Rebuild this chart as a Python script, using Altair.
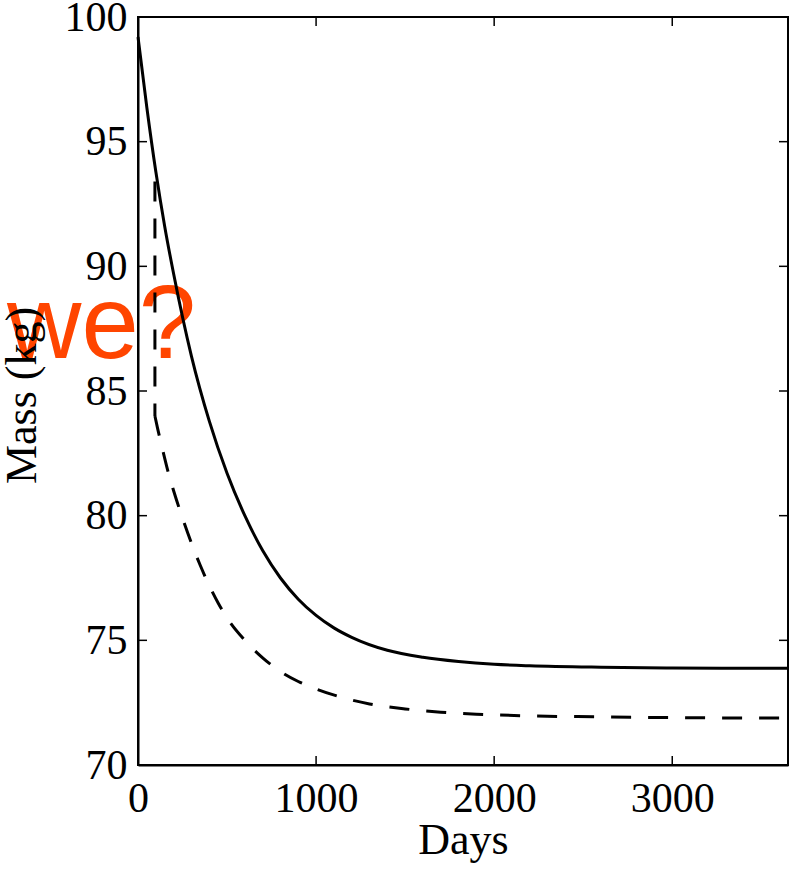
import altair as alt
import pandas as pd

# Solid curve
solid_days = [0, 50, 100, 150, 200, 300, 400, 500, 600, 700, 800, 900, 1000, 1100,
              1200, 1400, 1600, 1800, 2000, 2200, 2600, 3000, 3650]
solid_mass = [99.2, 96.35, 93.8, 91.6, 89.7, 86.4, 83.8, 81.7, 80.0, 78.6, 77.5, 76.65,
              76.0, 75.5, 75.12, 74.6, 74.32, 74.15, 74.04, 73.98, 73.92, 73.89, 73.88]

# Dashed curve: vertical drop at the switch day, then the decay
drop_day = [95]
drop_top = [93.4]
drop_bottom = [84.0]
dashed_days = [95, 110, 130, 150, 175, 200, 250, 300, 350, 400, 450, 500, 600, 700,
               800, 900, 1000, 1150, 1300, 1500, 1700, 1900, 2200, 2600, 3000, 3650]
dashed_mass = [84.0, 83.5, 82.9, 82.3, 81.6, 81.0, 79.9, 78.9, 78.0, 77.2, 76.5,
               75.9, 75.0, 74.3, 73.75, 73.35, 73.05, 72.7, 72.45, 72.25, 72.12, 72.04,
               71.97, 71.93, 71.9, 71.88]

x_ticks = [0, 1000, 2000, 3000]
y_ticks = [70, 75, 80, 85, 90, 95, 100]
overlay_text = "we?"

W, H = 650, 748
TICK = 9

solid_df = pd.DataFrame({"day": solid_days, "mass": solid_mass})
dashed_df = pd.DataFrame({"day": dashed_days, "mass": dashed_mass})
drop_df = pd.DataFrame({"day": drop_day, "top": drop_top, "bottom": drop_bottom})
xt_df = pd.DataFrame({"v": x_ticks})
yt_df = pd.DataFrame({"v": y_ticks})

xscale = alt.Scale(domain=[0, 3650], nice=False)
yscale = alt.Scale(domain=[70, 100], nice=False)

serif = "Liberation Serif"

x_axis = alt.Axis(values=x_ticks, format="d", title="Days", labelFont=serif,
                  labelFontSize=42, labelColor="black", ticks=False, domain=True,
                  domainColor="black", domainWidth=2, labelPadding=13, grid=False,
                  titleFont=serif, titleFontSize=44, titleFontWeight="normal",
                  titleColor="black", titleBaseline="alphabetic", titleY=88,
                  titleX=W / 2, zindex=1, labelFlush=False, labelOverlap=False)
y_axis = alt.Axis(values=y_ticks, format="d", title="Mass (kg)", labelFont=serif,
                  labelFontSize=42, labelColor="black", ticks=False, domain=True,
                  domainColor="black", domainWidth=2, labelPadding=11, grid=False,
                  titleFont=serif, titleFontSize=44, titleFontWeight="normal",
                  titleColor="black", titleBaseline="alphabetic", titleX=-103,
                  titleY=378, titleAngle=-90, zindex=1, labelFlush=False,
                  labelOverlap=False)

text_layer = alt.Chart(pd.DataFrame({"t": [overlay_text]})).mark_text(
    font="Liberation Sans", fontSize=103, color="#FF4500", align="left",
    baseline="alphabetic"
).encode(text="t:N", x=alt.value(-131), y=alt.value(341))

solid = alt.Chart(solid_df).mark_line(color="black", strokeWidth=3,
                                      interpolate="monotone").encode(
    x=alt.X("day:Q", scale=xscale, axis=x_axis),
    y=alt.Y("mass:Q", scale=yscale, axis=y_axis),
)

drop = alt.Chart(drop_df).mark_rule(color="black", strokeWidth=3,
                                    strokeDash=[20, 17]).encode(
    x=alt.X("day:Q", scale=xscale),
    y=alt.Y("top:Q", scale=yscale),
    y2="bottom:Q",
)

dashed = alt.Chart(dashed_df).mark_line(color="black", strokeWidth=3,
                                        strokeDash=[20, 17],
                                        interpolate="monotone").encode(
    x=alt.X("day:Q", scale=xscale),
    y=alt.Y("mass:Q", scale=yscale),
)

left_ticks = alt.Chart(yt_df).mark_rule(color="black", strokeWidth=1.5).encode(
    y=alt.Y("v:Q", scale=yscale), x=alt.value(0), x2=alt.value(TICK))
right_ticks = alt.Chart(yt_df).mark_rule(color="black", strokeWidth=1.5).encode(
    y=alt.Y("v:Q", scale=yscale), x=alt.value(W - TICK), x2=alt.value(W))
bottom_ticks = alt.Chart(xt_df).mark_rule(color="black", strokeWidth=1.5).encode(
    x=alt.X("v:Q", scale=xscale), y=alt.value(H - TICK), y2=alt.value(H))
top_ticks = alt.Chart(xt_df).mark_rule(color="black", strokeWidth=1.5).encode(
    x=alt.X("v:Q", scale=xscale), y=alt.value(0), y2=alt.value(TICK))

chart = alt.layer(text_layer, solid, drop, dashed, left_ticks, right_ticks,
                  bottom_ticks, top_ticks).properties(
    width=W, height=H,
    autosize=alt.AutoSizeParams(type="none"),
    padding={"left": 138, "top": 17, "right": 2, "bottom": 111},
    background="white",
).configure_view(stroke="black", strokeWidth=2)

chart.save("out.html", embed_options={"renderer": "svg", "actions": False})
